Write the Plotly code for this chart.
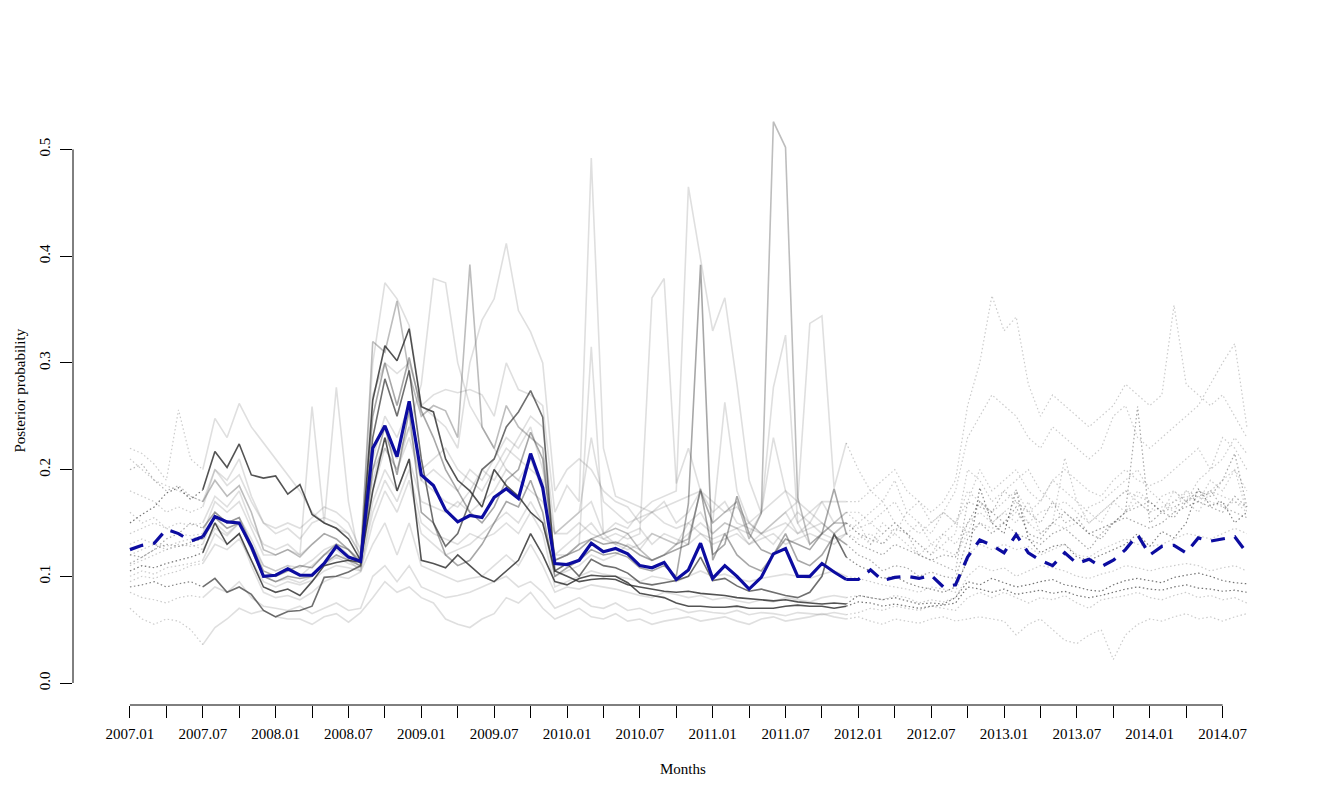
import plotly.graph_objects as go

# months are indexed 0 (2007.01) .. 92 (2014.09); the middle window is observed
obs_start = 6     # 2007.07
obs_end = 59      # 2011.12

month_ticks = list(range(0, 91, 3))
month_labels = ["2007.01", "", "2007.07", "", "2008.01", "", "2008.07", "", "2009.01", "",
                "2009.07", "", "2010.01", "", "2010.07", "", "2011.01", "", "2011.07", "",
                "2012.01", "", "2012.07", "", "2013.01", "", "2013.07", "", "2014.01", "",
                "2014.07"]
prob_ticks = [0.0, 0.1, 0.2, 0.3, 0.4, 0.5]
prob_labels = ["0.0", "0.1", "0.2", "0.3", "0.4", "0.5"]

mean_blue = [
    0.125, 0.129, 0.131, 0.144, 0.140, 0.133, 0.137, 0.156, 0.151, 0.150, 0.128, 0.100,
    0.101, 0.107, 0.101, 0.101, 0.112, 0.128, 0.118, 0.114, 0.220, 0.241, 0.212, 0.264,
    0.195, 0.185, 0.162, 0.151, 0.157, 0.155, 0.174, 0.182, 0.173, 0.215, 0.183, 0.112,
    0.111, 0.115, 0.131, 0.123, 0.126, 0.121, 0.110, 0.108, 0.113, 0.097, 0.106, 0.131,
    0.098, 0.110, 0.100, 0.088, 0.099, 0.121, 0.126, 0.100, 0.100, 0.112, 0.104, 0.097,
    0.097, 0.106, 0.096, 0.099, 0.100, 0.098, 0.101, 0.090, 0.092, 0.118, 0.134, 0.129,
    0.122, 0.139, 0.122, 0.115, 0.110, 0.122, 0.112, 0.116, 0.109, 0.115, 0.125, 0.139,
    0.120, 0.128, 0.129, 0.122, 0.136, 0.133, 0.135, 0.137, 0.122]

dark_a = [
    0.150, 0.158, 0.165, 0.178, 0.183, 0.172, 0.181, 0.217, 0.202, 0.224, 0.195, 0.192,
    0.194, 0.177, 0.186, 0.158, 0.150, 0.145, 0.135, 0.115, 0.265, 0.316, 0.302, 0.332,
    0.259, 0.254, 0.210, 0.190, 0.180, 0.165, 0.200, 0.185, 0.175, 0.160, 0.150, 0.105,
    0.100, 0.095, 0.097, 0.098, 0.097, 0.092, 0.090, 0.088, 0.086, 0.085, 0.086, 0.084,
    0.083, 0.082, 0.080, 0.079, 0.078, 0.077, 0.078, 0.076, 0.075, 0.074, 0.075, 0.074,
    0.082, 0.080, 0.078, 0.080, 0.077, 0.074, 0.075, 0.074, 0.080, 0.095, 0.092, 0.098,
    0.094, 0.090, 0.092, 0.095, 0.097, 0.092, 0.090, 0.087, 0.086, 0.092, 0.096, 0.098,
    0.096, 0.094, 0.099, 0.101, 0.103, 0.100, 0.096, 0.094, 0.093]

dark_b = [
    0.090, 0.092, 0.095, 0.090, 0.093, 0.095, 0.090, 0.098, 0.085, 0.090, 0.083, 0.068,
    0.062, 0.067, 0.068, 0.072, 0.099, 0.100, 0.104, 0.110, 0.230, 0.285, 0.250, 0.293,
    0.210, 0.150, 0.128, 0.140, 0.170, 0.200, 0.210, 0.240, 0.254, 0.274, 0.249, 0.105,
    0.112, 0.100, 0.116, 0.110, 0.108, 0.103, 0.094, 0.092, 0.094, 0.096, 0.100, 0.118,
    0.096, 0.098, 0.091, 0.086, 0.088, 0.085, 0.082, 0.080, 0.085, 0.100, 0.140, 0.118,
    0.110, 0.105, 0.098, 0.100, 0.094, 0.090, 0.088, 0.085, 0.090, 0.115, 0.183, 0.150,
    0.140, 0.181, 0.135, 0.122, 0.128, 0.130, 0.118, 0.115, 0.120, 0.125, 0.130, 0.140,
    0.128, 0.142, 0.136, 0.150, 0.182, 0.166, 0.170, 0.150, 0.160]

dark_c = [
    0.105, 0.110, 0.108, 0.112, 0.115, 0.118, 0.122, 0.150, 0.130, 0.140, 0.115, 0.090,
    0.085, 0.088, 0.082, 0.095, 0.110, 0.113, 0.115, 0.113, 0.180, 0.230, 0.180, 0.210,
    0.115, 0.112, 0.108, 0.120, 0.110, 0.100, 0.095, 0.105, 0.115, 0.140, 0.120, 0.095,
    0.092, 0.098, 0.101, 0.100, 0.100, 0.094, 0.084, 0.082, 0.080, 0.075, 0.072, 0.072,
    0.071, 0.071, 0.072, 0.070, 0.070, 0.070, 0.072, 0.073, 0.072, 0.072, 0.070, 0.072,
    0.076, 0.075, 0.072, 0.074, 0.072, 0.070, 0.072, 0.073, 0.075, 0.090, 0.088, 0.085,
    0.088, 0.083, 0.085, 0.087, 0.084, 0.086, 0.082, 0.080, 0.082, 0.085, 0.088, 0.090,
    0.088, 0.087, 0.090, 0.092, 0.089, 0.088, 0.086, 0.087, 0.085]

mid_d = [
    0.120, 0.118, 0.125, 0.130, 0.128, 0.132, 0.135, 0.155, 0.145, 0.150, 0.125, 0.100,
    0.095, 0.100, 0.098, 0.100, 0.112, 0.120, 0.115, 0.110, 0.200, 0.240, 0.195, 0.255,
    0.160, 0.150, 0.120, 0.110, 0.115, 0.130, 0.150, 0.170, 0.165, 0.190, 0.160, 0.100,
    0.108, 0.115, 0.125, 0.120, 0.122, 0.118, 0.108, 0.105, 0.110, 0.100, 0.168, 0.392,
    0.115, 0.140, 0.120, 0.110, 0.105, 0.120, 0.140, 0.115, 0.110, 0.120, 0.138, 0.130,
    0.120, 0.115, 0.105, 0.110, 0.108, 0.100, 0.104, 0.100, 0.098, 0.135, 0.150, 0.140,
    0.150, 0.140, 0.135, 0.130, 0.140, 0.145, 0.135, 0.125, 0.140, 0.150, 0.160, 0.259,
    0.150, 0.160, 0.155, 0.170, 0.180, 0.175, 0.190, 0.215, 0.165]

mid_e = [
    0.200, 0.205, 0.190, 0.180, 0.185, 0.175, 0.170, 0.190, 0.175, 0.185, 0.160, 0.125,
    0.120, 0.125, 0.118, 0.130, 0.140, 0.135, 0.125, 0.115, 0.320, 0.310, 0.358, 0.290,
    0.250, 0.260, 0.255, 0.230, 0.392, 0.240, 0.220, 0.260, 0.240, 0.230, 0.220, 0.115,
    0.120, 0.130, 0.135, 0.140, 0.145, 0.140, 0.125, 0.115, 0.120, 0.130, 0.135, 0.180,
    0.150, 0.160, 0.170, 0.135, 0.159, 0.526, 0.502, 0.174, 0.130, 0.140, 0.150, 0.150,
    0.140, 0.135, 0.130, 0.145, 0.140, 0.120, 0.115, 0.110, 0.105, 0.170, 0.165, 0.160,
    0.180, 0.170, 0.160, 0.150, 0.170, 0.150, 0.155, 0.140, 0.145, 0.150, 0.160, 0.165,
    0.170, 0.160, 0.165, 0.170, 0.175, 0.180, 0.165, 0.160, 0.155]

mid_f = [
    0.112, 0.118, 0.125, 0.135, 0.140, 0.150, 0.145, 0.160, 0.150, 0.155, 0.130, 0.105,
    0.100, 0.105, 0.110, 0.108, 0.120, 0.130, 0.125, 0.112, 0.250, 0.300, 0.260, 0.305,
    0.255, 0.230, 0.200, 0.180, 0.160, 0.150, 0.165, 0.190, 0.200, 0.235, 0.210, 0.115,
    0.120, 0.125, 0.135, 0.130, 0.132, 0.128, 0.120, 0.115, 0.120, 0.125, 0.130, 0.182,
    0.120, 0.130, 0.175, 0.140, 0.125, 0.120, 0.135, 0.130, 0.125, 0.140, 0.182, 0.140,
    0.130, 0.125, 0.120, 0.130, 0.125, 0.120, 0.115, 0.120, 0.118, 0.150, 0.170, 0.160,
    0.150, 0.165, 0.140, 0.135, 0.150, 0.160, 0.150, 0.140, 0.135, 0.150, 0.155, 0.150,
    0.145, 0.150, 0.160, 0.165, 0.170, 0.165, 0.160, 0.175, 0.165]

light_1 = [
    0.180, 0.175, 0.170, 0.160, 0.165, 0.160, 0.165, 0.200, 0.190, 0.210, 0.175, 0.150,
    0.140, 0.145, 0.135, 0.150, 0.155, 0.150, 0.140, 0.120, 0.270, 0.300, 0.290, 0.300,
    0.260, 0.270, 0.275, 0.272, 0.275, 0.270, 0.250, 0.300, 0.275, 0.270, 0.260, 0.160,
    0.185, 0.170, 0.492, 0.220, 0.175, 0.170, 0.165, 0.160, 0.170, 0.150, 0.160, 0.180,
    0.160, 0.170, 0.150, 0.145, 0.140, 0.150, 0.160, 0.140, 0.150, 0.140, 0.150, 0.160,
    0.150, 0.160, 0.170, 0.150, 0.140, 0.130, 0.120, 0.130, 0.140, 0.200, 0.190, 0.170,
    0.180, 0.190, 0.200, 0.180, 0.170, 0.160, 0.150, 0.165, 0.170, 0.180, 0.190, 0.200,
    0.180, 0.170, 0.160, 0.180, 0.170, 0.190, 0.180, 0.200, 0.160]

light_2 = [
    0.110, 0.115, 0.120, 0.125, 0.130, 0.128, 0.130, 0.160, 0.150, 0.155, 0.135, 0.110,
    0.105, 0.110, 0.108, 0.115, 0.125, 0.130, 0.120, 0.108, 0.200, 0.220, 0.200, 0.230,
    0.190, 0.180, 0.170, 0.165, 0.180, 0.200, 0.190, 0.210, 0.230, 0.250, 0.240, 0.140,
    0.150, 0.160, 0.170, 0.140, 0.150, 0.145, 0.160, 0.170, 0.175, 0.180, 0.465, 0.396,
    0.330, 0.361, 0.280, 0.190, 0.159, 0.230, 0.180, 0.170, 0.160, 0.150, 0.140, 0.150,
    0.140, 0.130, 0.150, 0.140, 0.160, 0.150, 0.140, 0.160, 0.150, 0.140, 0.170, 0.150,
    0.160, 0.150, 0.170, 0.140, 0.150, 0.211, 0.170, 0.150, 0.160, 0.170, 0.160, 0.180,
    0.170, 0.160, 0.180, 0.170, 0.160, 0.180, 0.190, 0.200, 0.180]

light_3 = [
    0.140, 0.145, 0.150, 0.145, 0.140, 0.138, 0.140, 0.170, 0.160, 0.170, 0.145, 0.120,
    0.120, 0.125, 0.120, 0.130, 0.140, 0.135, 0.125, 0.112, 0.210, 0.250, 0.230, 0.260,
    0.200, 0.210, 0.220, 0.200, 0.190, 0.180, 0.200, 0.220, 0.210, 0.200, 0.190, 0.120,
    0.130, 0.140, 0.150, 0.135, 0.140, 0.135, 0.140, 0.361, 0.379, 0.187, 0.220, 0.180,
    0.150, 0.263, 0.180, 0.150, 0.140, 0.130, 0.145, 0.160, 0.150, 0.170, 0.150, 0.160,
    0.160, 0.150, 0.140, 0.150, 0.140, 0.150, 0.130, 0.140, 0.150, 0.170, 0.200, 0.180,
    0.190, 0.200, 0.180, 0.170, 0.190, 0.180, 0.170, 0.160, 0.150, 0.170, 0.180, 0.170,
    0.160, 0.175, 0.180, 0.170, 0.190, 0.200, 0.230, 0.220, 0.200]

light_4 = [
    0.095, 0.100, 0.098, 0.102, 0.105, 0.110, 0.112, 0.130, 0.125, 0.135, 0.115, 0.095,
    0.090, 0.095, 0.092, 0.096, 0.105, 0.110, 0.108, 0.105, 0.150, 0.180, 0.160, 0.190,
    0.140, 0.130, 0.120, 0.125, 0.130, 0.140, 0.150, 0.160, 0.150, 0.170, 0.150, 0.100,
    0.105, 0.110, 0.120, 0.115, 0.120, 0.130, 0.125, 0.140, 0.135, 0.130, 0.150, 0.160,
    0.140, 0.150, 0.145, 0.130, 0.140, 0.150, 0.160, 0.170, 0.337, 0.344, 0.183, 0.225,
    0.200, 0.180, 0.170, 0.190, 0.160, 0.170, 0.150, 0.160, 0.180, 0.230, 0.250, 0.270,
    0.260, 0.250, 0.230, 0.220, 0.240, 0.230, 0.220, 0.210, 0.220, 0.250, 0.260, 0.230,
    0.220, 0.230, 0.240, 0.250, 0.260, 0.280, 0.300, 0.318, 0.240]

light_5 = [
    0.210, 0.200, 0.190, 0.185, 0.180, 0.175, 0.170, 0.200, 0.185, 0.195, 0.170, 0.150,
    0.145, 0.150, 0.145, 0.155, 0.165, 0.160, 0.150, 0.125, 0.300, 0.375, 0.360, 0.335,
    0.260, 0.250, 0.240, 0.220, 0.300, 0.340, 0.360, 0.412, 0.349, 0.329, 0.300, 0.180,
    0.200, 0.210, 0.200, 0.180, 0.170, 0.165, 0.150, 0.160, 0.165, 0.170, 0.175, 0.180,
    0.170, 0.160, 0.165, 0.150, 0.160, 0.170, 0.180, 0.150, 0.160, 0.170, 0.170, 0.170,
    0.170, 0.180, 0.190, 0.200, 0.180, 0.170, 0.160, 0.170, 0.190, 0.260, 0.300, 0.363,
    0.330, 0.343, 0.280, 0.250, 0.270, 0.260, 0.250, 0.240, 0.250, 0.260, 0.280, 0.270,
    0.260, 0.270, 0.354, 0.280, 0.270, 0.260, 0.270, 0.250, 0.230]

light_6 = [
    0.220, 0.215, 0.205, 0.190, 0.256, 0.210, 0.200, 0.248, 0.230, 0.262, 0.240, 0.225,
    0.210, 0.195, 0.180, 0.160, 0.150, 0.145, 0.140, 0.120, 0.180, 0.220, 0.200, 0.240,
    0.280, 0.379, 0.375, 0.300, 0.260, 0.240, 0.220, 0.200, 0.190, 0.180, 0.170, 0.140,
    0.150, 0.160, 0.230, 0.170, 0.160, 0.150, 0.155, 0.160, 0.150, 0.145, 0.150, 0.140,
    0.135, 0.140, 0.145, 0.150, 0.140, 0.145, 0.150, 0.140, 0.145, 0.150, 0.140, 0.150,
    0.145, 0.150, 0.160, 0.170, 0.150, 0.140, 0.150, 0.160, 0.150, 0.180, 0.170, 0.160,
    0.170, 0.180, 0.160, 0.170, 0.190, 0.200, 0.190, 0.180, 0.175, 0.190, 0.200, 0.190,
    0.185, 0.190, 0.200, 0.210, 0.220, 0.200, 0.210, 0.230, 0.215]

light_7 = [
    0.130, 0.135, 0.130, 0.128, 0.132, 0.135, 0.138, 0.150, 0.140, 0.150, 0.130, 0.110,
    0.105, 0.110, 0.100, 0.110, 0.120, 0.125, 0.115, 0.105, 0.170, 0.200, 0.180, 0.210,
    0.170, 0.165, 0.160, 0.170, 0.160, 0.170, 0.180, 0.200, 0.190, 0.210, 0.180, 0.120,
    0.120, 0.130, 0.315, 0.140, 0.130, 0.125, 0.130, 0.140, 0.135, 0.130, 0.140, 0.150,
    0.140, 0.150, 0.145, 0.140, 0.159, 0.277, 0.326, 0.150, 0.130, 0.140, 0.135, 0.140,
    0.135, 0.140, 0.130, 0.140, 0.130, 0.120, 0.130, 0.125, 0.120, 0.140, 0.150, 0.145,
    0.150, 0.160, 0.150, 0.140, 0.150, 0.145, 0.150, 0.140, 0.145, 0.150, 0.160, 0.170,
    0.160, 0.165, 0.170, 0.175, 0.170, 0.180, 0.175, 0.170, 0.165]

light_8 = [
    0.070, 0.060, 0.055, 0.060, 0.058, 0.050, 0.036, 0.052, 0.060, 0.070, 0.065, 0.068,
    0.062, 0.060, 0.060, 0.055, 0.062, 0.065, 0.057, 0.066, 0.080, 0.095, 0.085, 0.090,
    0.080, 0.075, 0.060, 0.055, 0.052, 0.060, 0.065, 0.080, 0.075, 0.085, 0.070, 0.060,
    0.065, 0.070, 0.062, 0.060, 0.065, 0.058, 0.060, 0.055, 0.058, 0.060, 0.062, 0.058,
    0.060, 0.062, 0.058, 0.055, 0.060, 0.062, 0.058, 0.060, 0.062, 0.065, 0.062, 0.060,
    0.062, 0.058, 0.055, 0.060, 0.058, 0.056, 0.060, 0.062, 0.058, 0.060, 0.062, 0.060,
    0.058, 0.045, 0.055, 0.060, 0.050, 0.040, 0.037, 0.045, 0.050, 0.022, 0.045, 0.055,
    0.060, 0.058, 0.062, 0.065, 0.060, 0.062, 0.058, 0.062, 0.065]

light_9 = [
    0.085, 0.080, 0.078, 0.075, 0.080, 0.082, 0.080, 0.090, 0.085, 0.095, 0.080, 0.072,
    0.070, 0.068, 0.072, 0.065, 0.070, 0.075, 0.068, 0.070, 0.100, 0.110, 0.095, 0.110,
    0.090, 0.085, 0.080, 0.082, 0.085, 0.090, 0.095, 0.100, 0.090, 0.095, 0.085, 0.070,
    0.075, 0.080, 0.072, 0.070, 0.075, 0.068, 0.070, 0.065, 0.068, 0.070, 0.066, 0.068,
    0.066, 0.065, 0.068, 0.064, 0.066, 0.065, 0.063, 0.066, 0.065, 0.064, 0.066, 0.064,
    0.066, 0.070, 0.068, 0.072, 0.070, 0.068, 0.072, 0.070, 0.068, 0.080, 0.085, 0.080,
    0.085, 0.080, 0.075, 0.080, 0.078, 0.082, 0.075, 0.070, 0.078, 0.080, 0.082, 0.085,
    0.080, 0.078, 0.082, 0.085, 0.080, 0.082, 0.078, 0.080, 0.075]

light_10 = [
    0.160, 0.150, 0.155, 0.145, 0.150, 0.148, 0.150, 0.175, 0.165, 0.180, 0.150, 0.130,
    0.125, 0.130, 0.120, 0.259, 0.150, 0.277, 0.170, 0.110, 0.190, 0.230, 0.210, 0.240,
    0.190, 0.200, 0.190, 0.180, 0.200, 0.190, 0.210, 0.230, 0.220, 0.240, 0.200, 0.140,
    0.140, 0.150, 0.140, 0.135, 0.130, 0.140, 0.145, 0.130, 0.140, 0.135, 0.130, 0.140,
    0.130, 0.135, 0.140, 0.130, 0.135, 0.140, 0.130, 0.135, 0.140, 0.135, 0.130, 0.140,
    0.150, 0.130, 0.140, 0.150, 0.140, 0.130, 0.120, 0.140, 0.130, 0.150, 0.160, 0.150,
    0.160, 0.170, 0.150, 0.160, 0.165, 0.170, 0.160, 0.150, 0.160, 0.170, 0.180, 0.175,
    0.170, 0.160, 0.170, 0.180, 0.175, 0.170, 0.165, 0.170, 0.160]

light_11 = [
    0.100, 0.105, 0.102, 0.108, 0.110, 0.112, 0.115, 0.140, 0.130, 0.140, 0.110, 0.085,
    0.080, 0.082, 0.078, 0.085, 0.095, 0.100, 0.098, 0.104, 0.130, 0.150, 0.120, 0.150,
    0.110, 0.105, 0.100, 0.095, 0.098, 0.100, 0.110, 0.120, 0.110, 0.130, 0.110, 0.085,
    0.090, 0.088, 0.092, 0.090, 0.088, 0.085, 0.082, 0.080, 0.085, 0.083, 0.080, 0.082,
    0.078, 0.080, 0.077, 0.075, 0.078, 0.076, 0.080, 0.078, 0.076, 0.080, 0.082, 0.080,
    0.082, 0.080, 0.078, 0.082, 0.080, 0.075, 0.078, 0.076, 0.080, 0.100, 0.110, 0.105,
    0.108, 0.100, 0.105, 0.110, 0.108, 0.105, 0.100, 0.098, 0.102, 0.105, 0.110, 0.108,
    0.105, 0.108, 0.110, 0.112, 0.110, 0.105, 0.108, 0.110, 0.105]

light_12 = [
    0.120, 0.125, 0.130, 0.125, 0.128, 0.130, 0.125, 0.145, 0.138, 0.150, 0.130, 0.100,
    0.095, 0.098, 0.094, 0.100, 0.110, 0.118, 0.112, 0.108, 0.160, 0.190, 0.170, 0.200,
    0.150, 0.140, 0.135, 0.130, 0.140, 0.135, 0.140, 0.150, 0.140, 0.160, 0.140, 0.090,
    0.095, 0.100, 0.105, 0.102, 0.100, 0.098, 0.095, 0.100, 0.098, 0.095, 0.100, 0.105,
    0.100, 0.102, 0.098, 0.095, 0.098, 0.100, 0.102, 0.100, 0.098, 0.102, 0.105, 0.100,
    0.098, 0.095, 0.092, 0.090, 0.088, 0.085, 0.090, 0.088, 0.085, 0.120, 0.130, 0.125,
    0.130, 0.125, 0.128, 0.120, 0.125, 0.130, 0.120, 0.118, 0.125, 0.130, 0.135, 0.130,
    0.128, 0.130, 0.135, 0.140, 0.138, 0.135, 0.140, 0.145, 0.140]

# (solid colour, dotted colour); dots are thin, so they get a bit more ink
LIGHT = ("rgba(110,110,110,0.22)", "rgba(110,110,110,0.36)")
MID_E = ("rgba(90,90,90,0.4)", "rgba(90,90,90,0.45)")
MID = ("rgba(80,80,80,0.5)", "rgba(80,80,80,0.5)")
DARK_B = ("rgba(50,50,50,0.7)", "rgba(50,50,50,0.6)")
DARK = ("rgba(40,40,40,0.8)", "rgba(40,40,40,0.65)")

gray_series = [
    (light_1, LIGHT), (light_2, LIGHT), (light_3, LIGHT), (light_4, LIGHT),
    (light_5, LIGHT), (light_6, LIGHT), (light_7, LIGHT), (light_8, LIGHT),
    (light_9, LIGHT), (light_10, LIGHT), (light_11, LIGHT), (light_12, LIGHT),
    (mid_e, MID_E), (mid_d, MID), (mid_f, MID),
    (dark_b, DARK_B), (dark_c, DARK), (dark_a, DARK),
]


def split_obs(values):
    # solid part for the observed window, dotted for the rest (both ends)
    xs = list(range(len(values)))
    solid = (xs[obs_start:obs_end + 1], values[obs_start:obs_end + 1])
    dotted = (xs[:obs_start + 1] + [None] + xs[obs_end:],
              values[:obs_start + 1] + [None] + values[obs_end:])
    return solid, dotted


fig = go.Figure()

for values, (solid_col, dot_col) in gray_series:
    solid, dotted = split_obs(values)
    fig.add_trace(go.Scatter(x=dotted[0], y=dotted[1], mode="lines",
                             line=dict(color=dot_col, width=1.2, dash="1.5px,2.5px"),
                             hoverinfo="skip", showlegend=False))
    fig.add_trace(go.Scatter(x=solid[0], y=solid[1], mode="lines",
                             line=dict(color=solid_col, width=1.6),
                             hoverinfo="skip", showlegend=False))

solid, dotted = split_obs(mean_blue)
fig.add_trace(go.Scatter(x=dotted[0], y=dotted[1], mode="lines",
                         line=dict(color="#0c0ca0", width=3.2, dash="14px,10px"),
                         showlegend=False))
fig.add_trace(go.Scatter(x=solid[0], y=solid[1], mode="lines",
                         line=dict(color="#0c0ca0", width=3.2),
                         showlegend=False))

font = dict(family="Liberation Serif, Times New Roman, serif", size=15, color="black")

fig.update_xaxes(range=[-4.69, 95.8], tickvals=month_ticks, ticktext=month_labels,
                 ticks="outside", ticklen=12, tickwidth=1, tickcolor="black",
                 showgrid=False, zeroline=False, showline=False,
                 ticklabelstandoff=3, tickfont=font)
fig.update_yaxes(range=[-0.0206, 0.551], tickvals=prob_ticks, ticktext=prob_labels,
                 ticks="outside", ticklen=12, tickwidth=1, tickcolor="black",
                 showgrid=False, zeroline=False, showline=False, tickangle=-90,
                 ticklabelstandoff=4, tickfont=font)

# axis lines only span the tick range, like base R graphics
fig.add_shape(type="line", xref="x", yref="paper", x0=0, x1=90, y0=0, y1=0,
              line=dict(color="black", width=1))
fig.add_shape(type="line", xref="paper", yref="y", x0=0, x1=0, y0=0, y1=0.5,
              line=dict(color="black", width=1))

fig.add_annotation(text="Months", xref="paper", yref="paper", x=0.5, y=0,
                   yshift=-74, showarrow=False, font=font)
fig.add_annotation(text="Posterior probability", xref="paper", yref="y", x=0, y=0.274,
                   xshift=-63, textangle=-90, showarrow=False, font=font)

# the page body adds an 8px offset, so the figure is 8px smaller than the window
fig.update_layout(width=1321, height=789, paper_bgcolor="white", plot_bgcolor="white",
                  margin=dict(l=65, r=36, t=87, b=92), font=font, hovermode=False)

fig.write_html("out.html")
